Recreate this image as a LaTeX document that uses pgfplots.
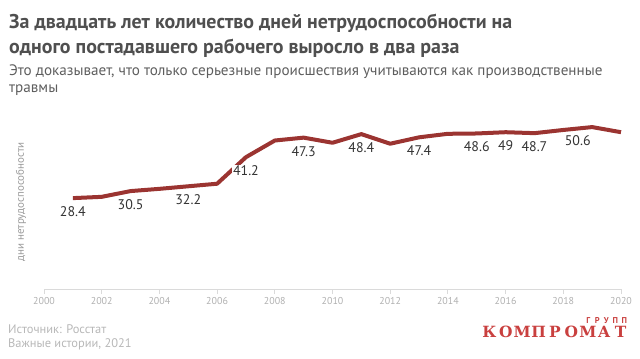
\documentclass[border=0pt]{standalone}
\usepackage{fontspec}
\setmainfont{PT Sans}
\newfontfamily\logofont{DejaVu Serif}
\usepackage{pgfplots}
\pgfplotsset{compat=1.18}
\definecolor{linered}{HTML}{9B3431}
\definecolor{titlegray}{HTML}{4F4F4F}
\definecolor{subgray}{HTML}{5E5E5E}
\definecolor{labgray}{HTML}{333333}
\definecolor{tickgray}{HTML}{B0B0B0}
\definecolor{axisgray}{HTML}{DADADA}
\definecolor{footgray}{HTML}{B8B8B8}
\definecolor{ylabgray}{HTML}{9A9A9A}
\definecolor{logored}{HTML}{C9403F}
\pgfplotstableread{
x y
2001 28.4
2002 28.8
2003 30.6
2004 31.3
2005 32.1
2006 32.9
2007 41.2
2008 46.4
2009 47.3
2010 45.7
2011 48.4
2012 45.4
2013 47.4
2014 48.5
2015 48.6
2016 49.0
2017 48.7
2018 49.7
2019 50.6
2020 49.0
}\datatable
\pgfplotstableread{
x y label
2001 28.4 28.4
2003 30.5 30.5
2005 32.2 32.2
2007 41.2 41.2
2009 47.3 47.3
2011 48.4 48.4
2013 47.4 47.4
2015 48.6 48.6
2016 49.0 49
2017 48.7 48.7
}\labeltable
\pgfplotstableread{
x y label
2019 50.6 50.6
}\labeltableb
\begin{document}
\begin{tikzpicture}
\useasboundingbox (0,0) rectangle (640bp,-359bp);
\node[anchor=base west, inner sep=0, text=titlegray, font=\bfseries\fontsize{20}{22}\selectfont] at (9bp,-28bp) {За двадцать лет количество дней нетрудоспособности на};
\node[anchor=base west, inner sep=0, text=titlegray, font=\bfseries\fontsize{20}{22}\selectfont] at (9bp,-53bp) {одного постадавшего рабочего выросло в два раза};
\node[anchor=base west, inner sep=0, text=subgray, font=\fontsize{15.2}{16}\selectfont] at (9bp,-75bp) {Это доказывает, что только серьезные происшествия учитываются как производственные};
\node[anchor=base west, inner sep=0, text=subgray, font=\fontsize{15.2}{16}\selectfont] at (9bp,-92bp) {травмы};
\node[rotate=90, inner sep=0, text=ylabgray, font=\fontsize{11}{12}\selectfont] at (21bp,-202bp) {дни нетрудоспособности};
\node[anchor=base west, inner sep=0, text=footgray, font=\fontsize{12.5}{14}\selectfont] at (8bp,-333bp) {Источник: Росстат};
\node[anchor=base west, inner sep=0, text=footgray, font=\fontsize{12.5}{14}\selectfont] at (8bp,-347bp) {Важные истории, 2021};
\node[anchor=base east, inner sep=0, text=logored, font=\logofont\bfseries\fontsize{15.5}{18}\selectfont] at (629bp,-337bp) {\makebox[16.4bp]{К}\makebox[16.4bp]{О}\makebox[16.4bp]{М}\makebox[16.4bp]{П}\makebox[16.4bp]{Р}\makebox[16.4bp]{О}\makebox[16.4bp]{М}\makebox[16.4bp]{А}\makebox[16.4bp]{Т}};
\node[anchor=base east, inner sep=0, text=logored, font=\bfseries\fontsize{8.5}{9}\selectfont] at (629bp,-323bp) {\makebox[9bp]{Г}\makebox[9bp]{Р}\makebox[9bp]{У}\makebox[9bp]{П}\makebox[9bp]{П}};
\begin{axis}[
  at={(44bp,-289bp)}, anchor=south west,
  scale only axis, width=577bp, height=176bp,
  xmin=2000, xmax=2020, ymin=0, ymax=55,
  clip=false,
  axis y line=none,
  axis x line*=bottom,
  x axis line style={draw=axisgray, line width=1bp, -},
  xtick={2000,2002,...,2020},
  xticklabel style={/pgf/number format/1000 sep={}, text=tickgray, font=\fontsize{10}{11}\selectfont},
  /pgf/number format/assume math mode=true,
  tick align=outside,
  major tick length=5bp,
  tick style={draw=axisgray, line width=1bp},
  ytick=\empty,
  nodes near coords style={font=\fontsize{14}{15}\selectfont, text=labgray, anchor=center, yshift=-13.5bp, fill=white, inner sep=0.6bp},
]
\addplot[linered, line width=4bp, line join=round, mark=none] table[x=x,y=y] {\datatable};
\addplot[draw=none, mark=none, nodes near coords, point meta=explicit symbolic] table[x=x,y=y,meta=label] {\labeltable};
\addplot[draw=none, mark=none, nodes near coords, point meta=explicit symbolic, nodes near coords style={xshift=-14.4bp}] table[x=x,y=y,meta=label] {\labeltableb};
\end{axis}
\end{tikzpicture}
\end{document}
